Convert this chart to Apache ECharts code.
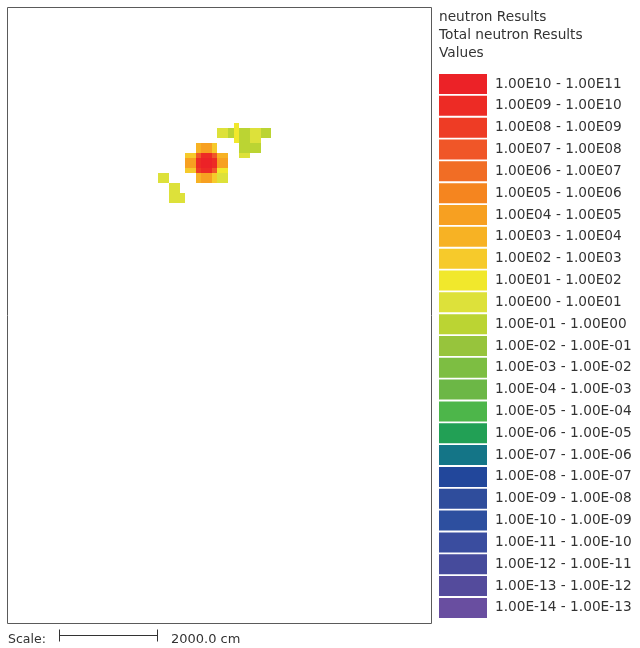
<!DOCTYPE html>
<html><head><meta charset="utf-8">
<script src="https://cdn.jsdelivr.net/npm/echarts@6/dist/echarts.min.js"></script>
<style>html,body{margin:0;padding:0;background:#fff}#c{width:640px;height:648px}</style>
</head><body><div id="c"></div>
<script>
// ---- data ----
const headerLines = ['neutron Results', 'Total neutron Results', 'Values'];
const legendExponents = [10, 9, 8, 7, 6, 5, 4, 3, 2, 1, 0, -1, -2, -3, -4, -5, -6, -7, -8, -9, -10, -11, -12, -13, -14];
const legendLabels = [
  '1.00E10 - 1.00E11', '1.00E09 - 1.00E10', '1.00E08 - 1.00E09', '1.00E07 - 1.00E08',
  '1.00E06 - 1.00E07', '1.00E05 - 1.00E06', '1.00E04 - 1.00E05', '1.00E03 - 1.00E04',
  '1.00E02 - 1.00E03', '1.00E01 - 1.00E02', '1.00E00 - 1.00E01', '1.00E-01 - 1.00E00',
  '1.00E-02 - 1.00E-01', '1.00E-03 - 1.00E-02', '1.00E-04 - 1.00E-03', '1.00E-05 - 1.00E-04',
  '1.00E-06 - 1.00E-05', '1.00E-07 - 1.00E-06', '1.00E-08 - 1.00E-07', '1.00E-09 - 1.00E-08',
  '1.00E-10 - 1.00E-09', '1.00E-11 - 1.00E-10', '1.00E-12 - 1.00E-11', '1.00E-13 - 1.00E-12',
  '1.00E-14 - 1.00E-13'
];
const legendColors = [
  '#EC2227', '#ED2B25', '#EE3C25', '#F05628', '#F16D25', '#F5851F', '#F7A021', '#F7B224',
  '#F6CA2B', '#F1E82C', '#DDE13A', '#BBD433', '#97C43C', '#7DBE42', '#6CB746', '#4DB64A',
  '#22A055', '#147587', '#22479B', '#2F4D9C', '#2D4F9F', '#3A4D9F', '#464B9C', '#544B9C', '#694EA0'
];
// mesh cells: [column, row, value]
const cells = [
  // central hot spot
  [35,27,3e3],[36,27,3e4],[37,27,3e4],[38,27,3e2],
  [35,28,3e3],[36,28,3e4],[37,28,3e4],[38,28,3e2],
  [33,29,3e2],[34,29,3e2],[35,29,3e7],[36,29,3e9],[37,29,3e9],[38,29,3e7],[39,29,3e3],[40,29,3e3],
  [33,30,3e4],[34,30,3e4],[35,30,3e9],[36,30,3e10],[37,30,3e10],[38,30,3e9],[39,30,3e4],[40,30,3e4],
  [33,31,3e4],[34,31,3e4],[35,31,3e9],[36,31,3e10],[37,31,3e10],[38,31,3e9],[39,31,3e4],[40,31,3e4],
  [33,32,3e2],[34,32,3e2],[35,32,3e8],[36,32,3e9],[37,32,3e9],[38,32,3e7],[39,32,3e1],[40,32,3e1],
  [35,33,3e3],[36,33,3e4],[37,33,3e4],[38,33,3e2],[39,33,3e0],[40,33,3e0],
  [35,34,3e3],[36,34,3e4],[37,34,3e4],[38,34,3e2],[39,34,3e0],[40,34,3e0],
  // lower-left staircase
  [28,33,3e0],[29,33,3e0],[28,34,3e0],[29,34,3e0],
  [30,35,3e0],[31,35,3e0],[30,36,3e0],[31,36,3e0],
  [30,37,3e0],[31,37,3e0],[32,37,3e0],[30,38,3e0],[31,38,3e0],[32,38,3e0],
  // upper-right streak
  [42,23,3e1],
  [39,24,3e0],[40,24,3e0],[41,24,3e-1],[42,24,3e1],[43,24,3e-1],[44,24,3e-1],[45,24,3e0],[46,24,3e0],[47,24,3e-1],[48,24,3e-1],
  [39,25,3e0],[40,25,3e0],[41,25,3e-1],[42,25,3e1],[43,25,3e-1],[44,25,3e-1],[45,25,3e0],[46,25,3e0],[47,25,3e-1],[48,25,3e-1],
  [42,26,3e1],[43,26,3e-1],[44,26,3e-1],[45,26,3e0],[46,26,3e0],
  [43,27,3e-1],[44,27,3e-1],[45,27,3e-1],[46,27,3e-1],
  [43,28,3e-1],[44,28,3e-1],[45,28,3e-1],[46,28,3e-1],
  [43,29,3e0],[44,29,3e0]
];
const meshColumns = 80;
const meshRows = 123;
const scaleTitle = 'Scale:';
const scaleLabel = '2000.0 cm';

// ---- chart ----
const FONT = 'DejaVu Sans';
const chart = echarts.init(document.getElementById('c'), null, {renderer: 'canvas'});
const pieces = legendExponents.map((e, i) => ({min: e, max: e + 1, label: legendLabels[i], color: legendColors[i]}));

chart.setOption({
  animation: false,
  backgroundColor: '#fff',
  grid: {left: 6.8, top: 8.3, width: meshColumns * 5.4, height: meshRows * 5, containLabel: false},
  xAxis: {type: 'value', min: 0, max: meshColumns, show: false},
  yAxis: {type: 'value', min: 0, max: meshRows, inverse: true, show: false},
  visualMap: {
    type: 'piecewise',
    dimension: 2,
    seriesIndex: 0,
    pieces: pieces,
    orient: 'vertical',
    left: 439,
    top: 74,
    padding: 0,
    itemWidth: 48,
    itemHeight: 20,
    itemGap: 1.83,
    itemSymbol: 'rect',
    textGap: 8,
    align: 'left',
    hoverLink: false,
    selectedMode: false,
    textStyle: {fontFamily: FONT, fontSize: 13.7, color: '#333'}
  },
  series: [{
    type: 'custom',
    coordinateSystem: 'cartesian2d',
    data: cells.map(c => [c[0], c[1], Math.log10(c[2])]),
    encode: {x: 0, y: 1},
    renderItem: function (params, api) {
      const x = api.value(0), y = api.value(1);
      const p0 = api.coord([x, y]);
      const p1 = api.coord([x + 1, y + 1]);
      const x0 = Math.round(Math.min(p0[0], p1[0])), x1 = Math.round(Math.max(p0[0], p1[0]));
      const y0 = Math.round(Math.min(p0[1], p1[1])), y1 = Math.round(Math.max(p0[1], p1[1]));
      return {
        type: 'rect',
        shape: {x: x0, y: y0, width: x1 - x0, height: y1 - y0},
        style: {fill: api.visual('color')}
      };
    }
  }],
  graphic: [
    {type: 'rect', shape: {x: 7.5, y: 7.5, width: 424, height: 616}, style: {fill: null, stroke: '#5a5a5a', lineWidth: 1}, z: 10},
    {type: 'text', x: 439, y: 8, style: {text: headerLines.join('\n'), font: '13.7px ' + FONT, fill: '#333', lineHeight: 18.3, verticalAlign: 'top'}},
    {type: 'text', x: 8, y: 640, style: {text: scaleTitle, font: '12.5px ' + FONT, fill: '#333', verticalAlign: 'middle'}},
    {type: 'line', shape: {x1: 59.5, y1: 635.5, x2: 157.5, y2: 635.5}, style: {stroke: '#333', lineWidth: 1}},
    {type: 'line', shape: {x1: 59.5, y1: 629.5, x2: 59.5, y2: 641.5}, style: {stroke: '#333', lineWidth: 1}},
    {type: 'line', shape: {x1: 157.5, y1: 629.5, x2: 157.5, y2: 641.5}, style: {stroke: '#333', lineWidth: 1}},
    {type: 'text', x: 171, y: 640, style: {text: scaleLabel, font: '13px ' + FONT, fill: '#333', verticalAlign: 'middle'}}
  ]
});
</script>
</body></html>
